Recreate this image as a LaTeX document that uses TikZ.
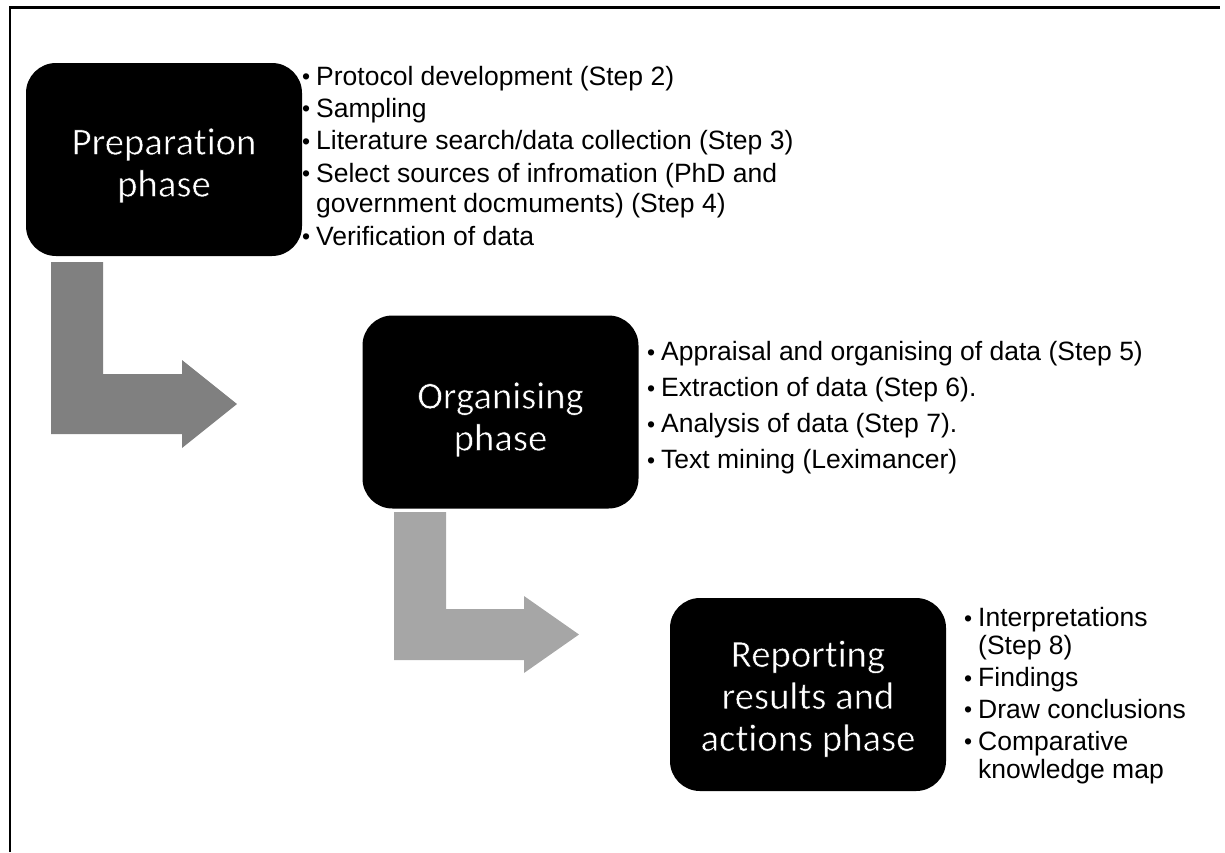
\documentclass[tikz,border=0pt]{standalone}
\usepackage{fontspec}
\setmainfont{Liberation Sans}
\newfontfamily\phasefont[Ligatures={NoCommon,NoContextual}]{Carlito}
\usetikzlibrary{calc}

% one bullet item with hanging indent and a small bullet
\newcommand\bitem[1]{\par\hangindent=14pt\hangafter=1\noindent
  \makebox[14pt][l]{\raisebox{0.5pt}{\fontsize{23}{23}\selectfont\textbullet}}#1}
% white titles drawn with a thin black outline so the strokes look lighter
\newcommand\thintext[1]{\special{pdf:literal direct 2 Tr 0 G 0.5 w}#1\special{pdf:literal direct 0 Tr 0.4 w}}

\begin{document}
\begin{tikzpicture}[x=1pt,y=-1pt,
  phasebox/.style={fill=black, rounded corners=30pt, minimum width=276pt,
    minimum height=193pt, inner sep=0pt},
  phasetitle/.style={text=white, font=\phasefont\fontsize{38.7}{42}\selectfont,
    align=center, inner sep=0pt},
  bullets/.style={anchor=base west, inner sep=0pt},
  darkarrow/.style={fill=black!50},
  lightarrow/.style={fill=black!35}]
\useasboundingbox (0,0) rectangle (1225,852);

% frame
\draw[line width=2.4pt] (10,852) -- (10,7.5) -- (1220,7.5);

% phase boxes
\node[phasebox] (prep) at (164,159.5) {};
\node[phasebox] (org)  at (500.5,412) {};
\node[phasebox] (rep)  at (808,694.5) {};

\node[phasetitle] (preptitle) at (164,165.5) {\thintext{Preparation}\\\thintext{phase}};
\node[phasetitle] (orgtitle)  at (500.5,419.5) {\thintext{Organising}\\\thintext{phase}};
\node[phasetitle] (reptitle)  at (808,698.7) {\thintext{Reporting}\\\thintext{results and}\\\thintext{actions phase}};

% bent block arrows between the phases
\fill[darkarrow] (51,262) -- (103,262) -- (103,374) -- (182,374) -- (182,360)
  -- (237,404) -- (182,448) -- (182,434) -- (51,434) -- cycle;
\fill[lightarrow] (394,512) -- (446,512) -- (446,609) -- (524,609) -- (524,596)
  -- (579,634.5) -- (524,673) -- (524,660) -- (394,660) -- cycle;

% bullet lists
\node[bullets] (preplist) at (302,85) {\vtop{\hsize=520pt\parindent=0pt\raggedright
  \parskip=1.8pt\fontsize{26.5}{30.6}\selectfont
  \bitem{Protocol development (Step 2)}
  \bitem{Sampling}
  \bitem{Literature search/data collection (Step 3)}
  \bitem{Select sources of infromation (PhD and\newline government docmuments) (Step 4)}
  \bitem{Verification of data}\par}};

\node[bullets] (orglist) at (647,360.8) {\vtop{\hsize=520pt\parindent=0pt\raggedright
  \parskip=0pt\fontsize{26.5}{36}\selectfont
  \bitem{Appraisal and organising of data (Step 5)}
  \bitem{Extraction of data (Step 6).}
  \bitem{Analysis of data (Step 7).}
  \bitem{Text mining (Leximancer)}\par}};

\node[bullets] (replist) at (964,626.7) {\vtop{\hsize=250pt\parindent=0pt\raggedright
  \parskip=3.8pt\fontsize{26.5}{28}\selectfont
  \bitem{Interpretations\newline (Step 8)}
  \bitem{Findings}
  \bitem{Draw conclusions}
  \bitem{Comparative\newline knowledge map}\par}};
\end{tikzpicture}
\end{document}
